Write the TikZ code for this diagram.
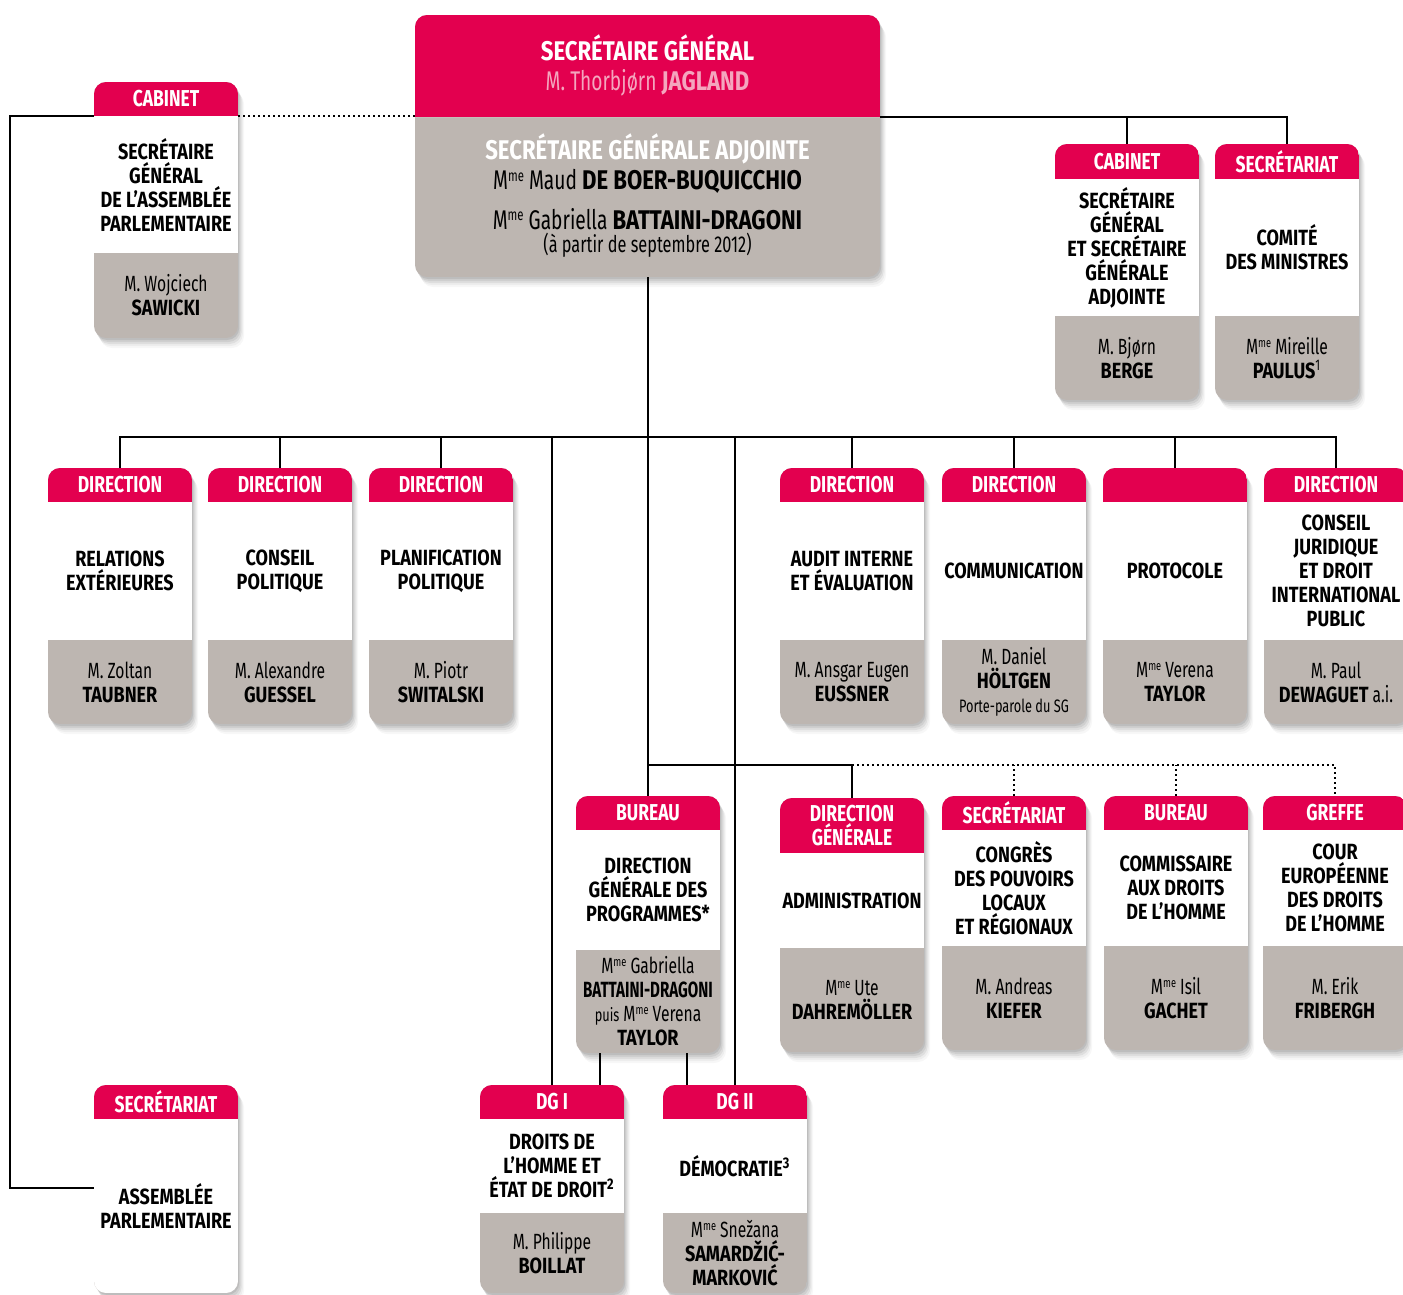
\documentclass[tikz,border=0pt]{standalone}
\usepackage{fontspec}
\setmainfont{Fira Sans}[UprightFeatures={FakeStretch=0.71}, BoldFeatures={FakeStretch=0.82}]
\newfontfamily\hdrfont{Fira Sans Bold}[FakeStretch=0.76]
\usetikzlibrary{fit,calc}
\definecolor{crim}{HTML}{E3004F}
\definecolor{cgray}{HTML}{BDB6B1}
\definecolor{pinkn}{HTML}{F4A6BE}
\tikzset{
  hdr/.style={text=white, font=\hdrfont\fontsize{11.5}{12}\selectfont, align=center, inner sep=0pt},
  bdy/.style={font=\bfseries\fontsize{11}{12}\selectfont, align=center, inner sep=0pt},
  per/.style={font=\fontsize{11}{12}\selectfont, align=center, inner sep=0pt},
  sgt/.style={font=\fontsize{13.5}{14}\selectfont, anchor=base, inner sep=0pt},
  conn/.style={line width=0.9pt},
  dots/.style={line width=0.9pt, dash pattern=on 0.9pt off 1.6pt},
}
% name, x1, y1, x2, y2, header bottom, white bottom
\newcommand\card[7]{%
  \foreach \s/\o in {2/0.08,4/0.07,6/0.06,8/0.04,10/0.03}{
    \fill[black, opacity=\o, rounded corners=6pt] (#2+\s*0.6,#3+\s) rectangle (#4+\s*0.6,#5+\s);
  }
  \begin{scope}
    \clip[rounded corners=6pt] (#2,#3) rectangle (#4,#5);
    \fill[cgray] (#2,#3) rectangle (#4,#5);
    \fill[crim] (#2,#3) rectangle (#4,#6);
    \fill[white] (#2,#6) rectangle (#4,#7);
  \end{scope}
  \node[fit={(#2,#3) (#4,#5)}, inner sep=0pt] (#1) {};
  \coordinate (#1-h) at ({(#2+#4)/2},{(#3+#6)/2});
  \coordinate (#1-w) at ({(#2+#4)/2},{(#6+#7)/2});
  \coordinate (#1-g) at ({(#2+#4)/2},{(#7+#5)/2});
  \coordinate (#1-hl) at (#2,#6);
  \coordinate (#1-hr) at (#4,#6);
}
\newcommand\cardtext[4]{%
  \node[hdr] (#1-ht) at (#1-h) {#2};
  \node[bdy] (#1-bt) at (#1-w) {#3};
  \node[per] (#1-pt) at (#1-g) {#4};
}
\newcommand\mme{M\raisebox{0.62ex}{\fontsize{6.5}{6.5}\selectfont me}}
\newcommand\mmeL{M\raisebox{0.62ex}{\fontsize{8}{8}\selectfont me}}
\begin{document}
\begin{tikzpicture}[x=0.5pt,y=-0.5pt]
\useasboundingbox (0,0) rectangle (1403,1295);
\clip (0,0) rectangle (1403,1295);
\fill[white] (0,0) rectangle (1403,1295);

% ---- cards ----
\card{sg}{415}{15}{880}{277}{117}{117}
\card{cabL}{94}{82}{238}{338}{116}{253}
\card{cabR}{1055}{144}{1199}{400}{179}{316}
\card{secR}{1215}{144}{1359}{400}{179}{316}

\card{d1}{48}{468}{192}{724}{502}{640}
\card{d2}{208}{468}{352}{724}{502}{640}
\card{d3}{369}{468}{513}{724}{502}{640}
\card{d4}{780}{468}{924}{724}{502}{640}
\card{d5}{942}{468}{1086}{724}{502}{640}
\card{d6}{1103}{468}{1247}{724}{502}{640}
\card{d7}{1264}{468}{1408}{724}{502}{640}

\card{bur}{576}{796}{720}{1053}{830}{950}
\card{dgen}{780}{798}{924}{1052}{853}{948}
\card{secC}{942}{796}{1086}{1050}{830}{946}
\card{burC}{1104}{796}{1248}{1050}{830}{946}
\card{greffe}{1263}{796}{1407}{1050}{830}{946}

\card{dg1}{480}{1085}{624}{1293}{1119}{1213}
\card{dg2}{663}{1085}{807}{1293}{1119}{1213}
\card{ap}{94}{1085}{238}{1293}{1119}{1293}

% ---- texts ----
\node[sgt, text=white, font=\bfseries\fontsize{13.5}{14}\selectfont] (sg-t1) at (647.5,61) {SECRÉTAIRE GÉNÉRAL};
\node[sgt, text=pinkn] (sg-t2) at (647.5,91) {M. Thorbjørn \textbf{JAGLAND}};
\node[sgt, text=white, font=\bfseries\fontsize{13.5}{14}\selectfont] (sg-t3) at (647.5,160) {SECRÉTAIRE GÉNÉRALE ADJOINTE};
\node[sgt] (sg-t4) at (647.5,190) {\mmeL{} Maud \textbf{DE BOER-BUQUICCHIO}};
\node[sgt] (sg-t5) at (647.5,229) {\mmeL{} Gabriella \textbf{BATTAINI-DRAGONI}};
\node[sgt, font=\fontsize{11.5}{12}\selectfont] (sg-t6) at (647.5,252) {(à partir de septembre 2012)};

\cardtext{cabL}{CABINET}{SECRÉTAIRE\\GÉNÉRAL\\DE L’ASSEMBLÉE\\PARLEMENTAIRE}{M. Wojciech\\\textbf{SAWICKI}}
\cardtext{cabR}{CABINET}{SECRÉTAIRE\\GÉNÉRAL\\ET SECRÉTAIRE\\GÉNÉRALE\\ADJOINTE}{M. Bjørn\\\textbf{BERGE}}
\cardtext{secR}{SECRÉTARIAT}{COMITÉ\\DES MINISTRES}{\mme{} Mireille\\\textbf{PAULUS}\textsuperscript{1}}

\cardtext{d1}{DIRECTION}{RELATIONS\\EXTÉRIEURES}{M. Zoltan\\\textbf{TAUBNER}}
\cardtext{d2}{DIRECTION}{CONSEIL\\POLITIQUE}{M. Alexandre\\\textbf{GUESSEL}}
\cardtext{d3}{DIRECTION}{PLANIFICATION\\POLITIQUE}{M. Piotr\\\textbf{SWITALSKI}}
\cardtext{d4}{DIRECTION}{AUDIT INTERNE\\ET ÉVALUATION}{M. Ansgar Eugen\\\textbf{EUSSNER}}
\cardtext{d5}{DIRECTION}{COMMUNICATION}{M. Daniel\\\textbf{HÖLTGEN}\\{\fontsize{9}{10}\selectfont Porte-parole du SG}}
\cardtext{d6}{}{PROTOCOLE}{\mme{} Verena\\\textbf{TAYLOR}}
\cardtext{d7}{DIRECTION}{CONSEIL\\JURIDIQUE\\ET DROIT\\INTERNATIONAL\\PUBLIC}{M. Paul\\\textbf{DEWAGUET} a.i.}

\cardtext{bur}{BUREAU}{DIRECTION\\GÉNÉRALE DES\\PROGRAMMES*}{\mme{} Gabriella\\\scalebox{0.84}[1]{\textbf{BATTAINI-DRAGONI}}\\{\fontsize{9}{10}\selectfont puis} \mme{} Verena\\\textbf{TAYLOR}}
\cardtext{dgen}{DIRECTION\\GÉNÉRALE}{ADMINISTRATION}{\mme{} Ute\\\textbf{DAHREMÖLLER}}
\cardtext{secC}{SECRÉTARIAT}{CONGRÈS\\DES POUVOIRS\\LOCAUX\\ET RÉGIONAUX}{M. Andreas\\\textbf{KIEFER}}
\cardtext{burC}{BUREAU}{COMMISSAIRE\\AUX DROITS\\DE L’HOMME}{\mme{} Isil\\\textbf{GACHET}}
\cardtext{greffe}{GREFFE}{COUR\\EUROPÉENNE\\DES DROITS\\DE L’HOMME}{M. Erik\\\textbf{FRIBERGH}}

\cardtext{dg1}{DG I}{DROITS DE\\L’HOMME ET\\ÉTAT DE DROIT\textsuperscript{2}}{M. Philippe\\\textbf{BOILLAT}}
\cardtext{dg2}{DG II}{DÉMOCRATIE\textsuperscript{3}}{\mme{} Snežana\\\textbf{SAMARDŽIĆ-}\\\textbf{MARKOVIĆ}}
\cardtext{ap}{SECRÉTARIAT}{ASSEMBLÉE\\PARLEMENTAIRE}{}

% ---- connectors ----
\coordinate (bus) at (648,437);
\coordinate (bus2) at (648,765);
\coordinate (lb) at (10,1188);

\draw[conn] (sg-hr) -| (secR.north);
\draw[conn] (cabR.north) -- (cabR.north |- sg-hr);
\draw[dots] (cabL-hr) -- (cabL-hr -| sg.west);
\draw[conn] (cabL-hl) -| (lb) -- (lb -| ap.west);

\draw[conn] (bur.north) -- (bur.north |- sg.south);
\draw[conn] (d1.north) |- (bus) -| (d7.north);
\foreach \n in {d2,d3,d4,d5,d6,dg1,dg2}{
  \draw[conn] (\n.north) -- (\n.north |- bus);
}
\draw[conn] (bus2) -| (dgen.north);
\draw[dots] (dgen.north |- bus2) -| (greffe.north);
\draw[dots] (secC.north) -- (secC.north |- bus2);
\draw[dots] (burC.north) -- (burC.north |- bus2);

\coordinate (b1) at ($(bur.south)+(-48,0)$);
\coordinate (b2) at ($(bur.south)+(39,0)$);
\draw[conn] (b1) -- (b1 |- dg1.north);
\draw[conn] (b2) -- (b2 |- dg2.north);
\end{tikzpicture}
\end{document}
